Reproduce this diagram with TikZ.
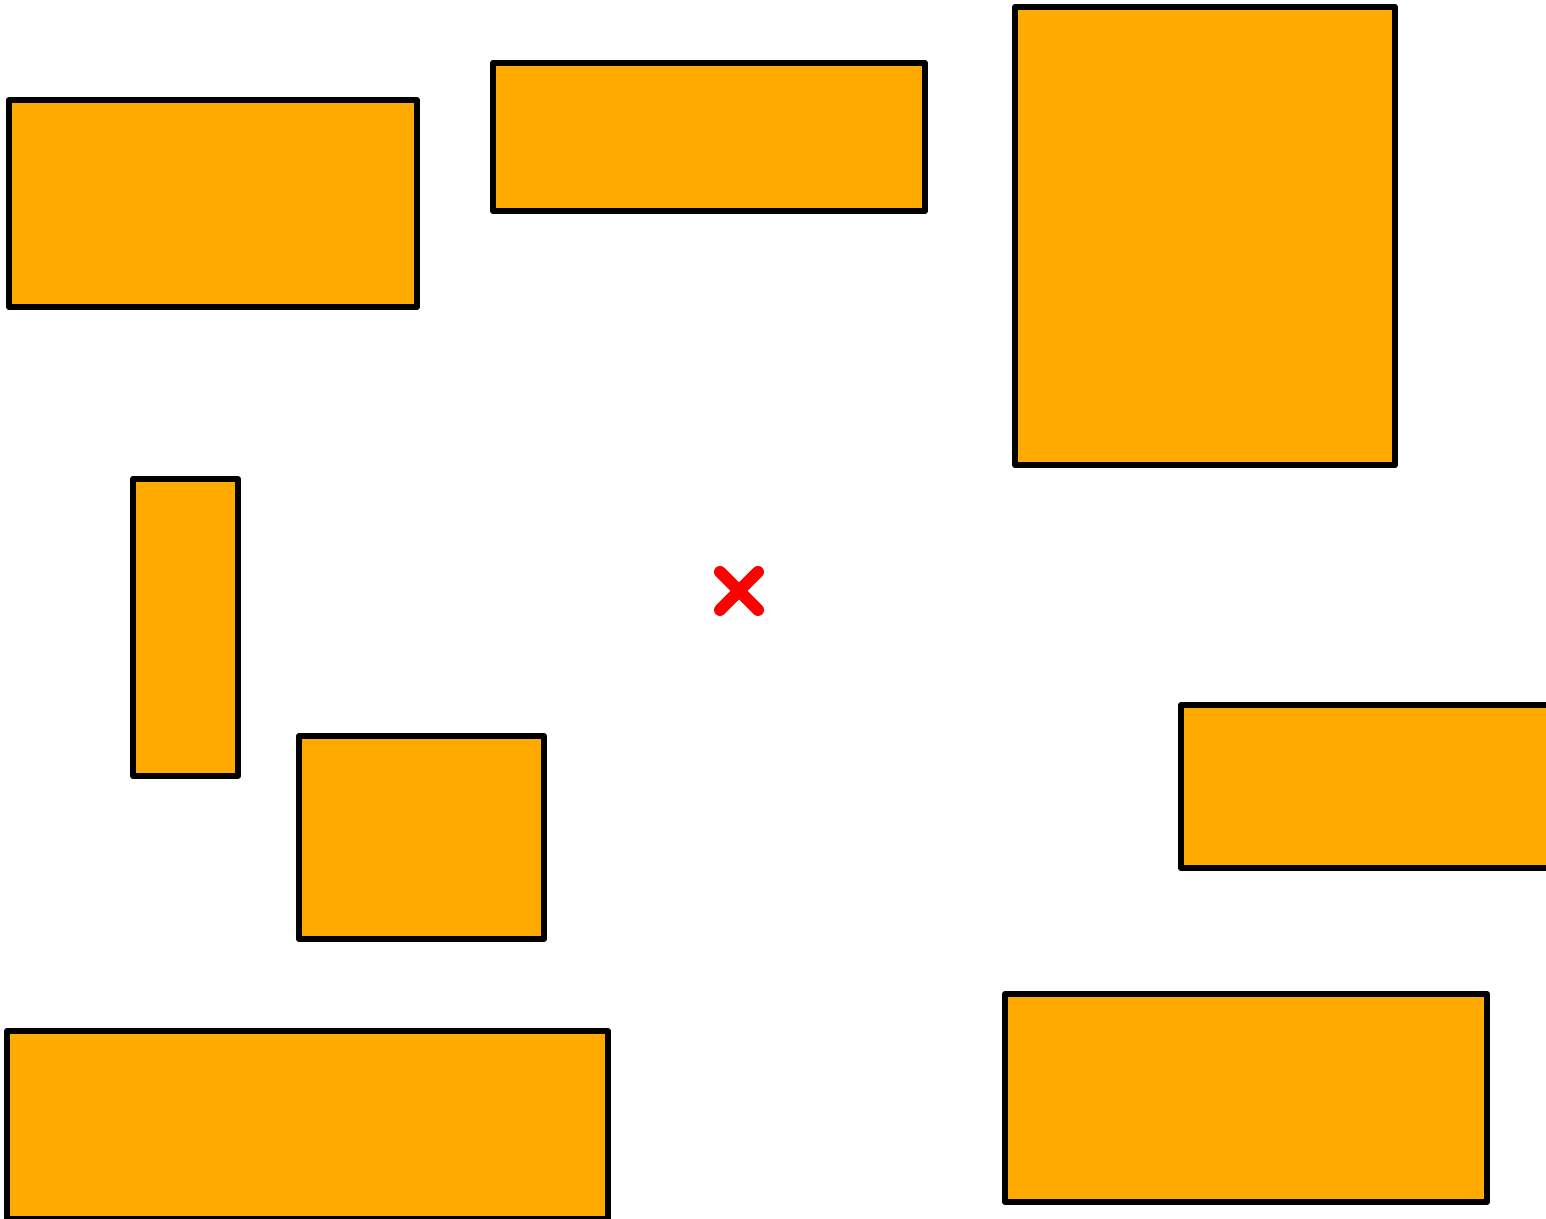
\documentclass[tikz,border=0pt]{standalone}
\usepackage{tikz}
\usetikzlibrary{positioning,calc}

\definecolor{boxorange}{RGB}{255,170,0}
\tikzset{
    blockbox/.style={draw, black, fill=boxorange, line width=0.06cm, line join=round, inner sep=0pt, outer sep=0pt}
}

\begin{document}
\begin{tikzpicture}
        \useasboundingbox (0,0) rectangle (15.46,12.19);
        \clip (0,0) rectangle (15.46,12.19);
        % Nodes
        \node[blockbox, minimum width=4.08cm, minimum height=2.07cm] (topleft) at (2.13,10.155) {};
        \node[blockbox, minimum width=4.32cm, minimum height=1.48cm] (topmid) at (7.09,10.82) {};
        \node[blockbox, minimum width=3.80cm, minimum height=4.58cm] (tall) at (12.05,9.83) {};
        \node[blockbox, minimum width=1.05cm, minimum height=2.97cm] (narrow) at (1.855,5.915) {};
        \node[blockbox, minimum width=2.45cm, minimum height=2.03cm] (small) at (4.215,3.815) {};
        \node[blockbox, minimum width=4.50cm, minimum height=1.63cm, anchor=west] (rightedge) at (11.81,4.325) {};
        \node[blockbox, minimum width=4.82cm, minimum height=2.08cm] (bottomright) at (12.46,1.21) {};
        \node[blockbox, minimum width=6.01cm, minimum height=1.88cm] (bottomleft) at (3.075,0.94) {};

        % Cross
        \coordinate (target) at (7.39,6.28);
        \draw[red, line width=0.12cm, line cap=round] ($(target)+(-0.19,0.19)$) -- ($(target)+(0.19,-0.19)$);
        \draw[red, line width=0.12cm, line cap=round] ($(target)+(-0.19,-0.19)$) -- ($(target)+(0.19,0.19)$);
\end{tikzpicture}
\end{document}
